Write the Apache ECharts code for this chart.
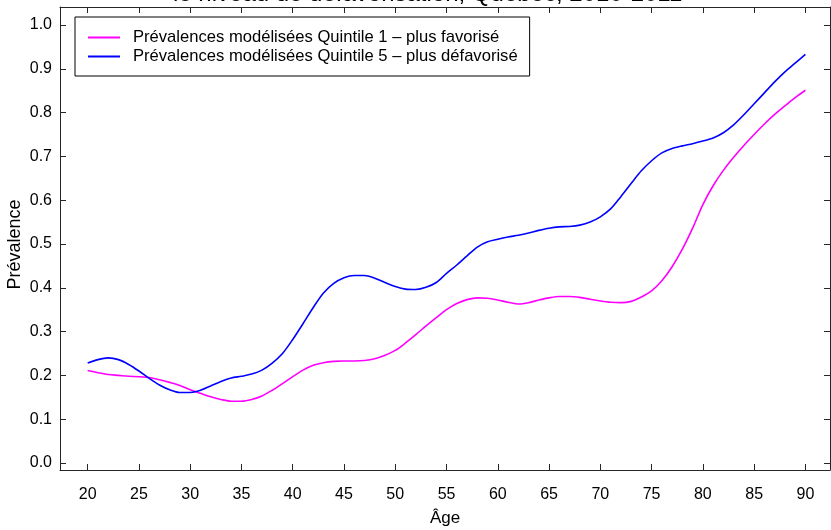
<!DOCTYPE html>
<html>
<head>
<meta charset="utf-8">
<script src="https://cdn.jsdelivr.net/npm/echarts@6/dist/echarts.min.js"></script>
<style>html,body{margin:0;padding:0;background:#fff}#c{width:831px;height:530px}</style>
</head>
<body>
<div id="c"></div>
<script>
const titleText = "le niveau de défavorisation, Québec, 2010-2011";
const seriesNames = ["Prévalences modélisées Quintile 1 – plus favorisé", "Prévalences modélisées Quintile 5 – plus défavorisé"];
const ages = [20,21,22,23,24,25,26,27,28,29,30,31,32,33,34,35,36,37,38,39,40,41,42,43,44,45,46,47,48,49,50,51,52,53,54,55,56,57,58,59,60,61,62,63,64,65,66,67,68,69,70,71,72,73,74,75,76,77,78,79,80,81,82,83,84,85,86,87,88,89,90];
const quintile1 = [0.211,0.206,0.202,0.200,0.198,0.197,0.195,0.190,0.184,0.177,0.167,0.159,0.151,0.145,0.141,0.141,0.145,0.153,0.166,0.181,0.197,0.212,0.223,0.229,0.232,0.233,0.233,0.234,0.238,0.246,0.257,0.274,0.293,0.313,0.332,0.350,0.364,0.373,0.377,0.376,0.372,0.367,0.363,0.366,0.372,0.377,0.380,0.380,0.378,0.374,0.370,0.367,0.366,0.369,0.379,0.393,0.416,0.448,0.488,0.536,0.590,0.633,0.668,0.698,0.725,0.750,0.774,0.796,0.815,0.834,0.851];
const quintile5 = [0.228,0.236,0.240,0.236,0.225,0.210,0.193,0.178,0.167,0.161,0.161,0.166,0.176,0.186,0.194,0.198,0.203,0.212,0.228,0.250,0.282,0.318,0.355,0.388,0.410,0.423,0.428,0.428,0.422,0.412,0.403,0.397,0.396,0.401,0.412,0.433,0.452,0.473,0.493,0.505,0.511,0.516,0.520,0.525,0.531,0.536,0.539,0.540,0.543,0.550,0.562,0.580,0.608,0.638,0.667,0.690,0.708,0.718,0.724,0.729,0.735,0.742,0.754,0.772,0.795,0.820,0.845,0.870,0.893,0.913,0.933];
const xTicks = [20,25,30,35,40,45,50,55,60,65,70,75,80,85,90];
const yTicks = [0,0.1,0.2,0.3,0.4,0.5,0.6,0.7,0.8,0.9,1.0];

const FONT = "Liberation Sans, Arial, sans-serif";
const axisCol = "#262626";
const chart = echarts.init(document.getElementById('c'), null, {renderer:'canvas'});

function pairs(xs, ys){ return xs.map((x,i)=>[x, ys[i]]); }

const xBase = {type:'value', min:17.3, max:92.4, splitLine:{show:false},
  axisLine:{show:true, onZero:false, lineStyle:{color:axisCol, width:1}}};
const yBase = {type:'value', min:-0.016, max:1.041, splitLine:{show:false},
  axisLine:{show:true, onZero:false, lineStyle:{color:axisCol, width:1}}};

chart.setOption({
  backgroundColor:'#fff',
  animation:false,
  title:{text:titleText, left:168, top:-23, textStyle:{fontFamily:FONT, fontSize:24, fontWeight:'normal', color:'#000'}},
  grid:{left:60, right:1, top:7, bottom:60, containLabel:false, outerBoundsMode:'none'},
  legend:{
    left:75, top:17, orient:'vertical',
    padding:[11,12,10,13], itemGap:0, itemWidth:32, itemHeight:2, icon:'rect',
    borderColor:'#000', borderWidth:1, backgroundColor:'#fff',
    textStyle:{fontFamily:FONT, fontSize:16.6, lineHeight:19, color:'#000', padding:[0,0,0,8]},
    data:seriesNames
  },
  xAxis:[
    Object.assign({}, xBase, {position:'bottom',
      name:'Âge', nameLocation:'middle', nameGap:40, nameMoveOverlap:false,
      nameTextStyle:{fontFamily:FONT, fontSize:17, color:'#000'},
      axisTick:{show:true, inside:true, length:6, customValues:xTicks, lineStyle:{color:axisCol}},
      axisLabel:{show:true, customValues:xTicks, margin:17, fontFamily:FONT, fontSize:16, color:'#000'}}),
    Object.assign({}, xBase, {position:'top',
      axisTick:{show:true, inside:true, length:6, customValues:xTicks, lineStyle:{color:axisCol}},
      axisLabel:{show:false}})
  ],
  yAxis:[
    Object.assign({}, yBase, {position:'left',
      name:'Prévalence', nameLocation:'middle', nameGap:36, nameRotate:90, nameMoveOverlap:false,
      nameTextStyle:{fontFamily:FONT, fontSize:18, color:'#000', padding:[0,12,0,0]},
      axisTick:{show:true, inside:true, length:6, customValues:yTicks, lineStyle:{color:axisCol}},
      axisLabel:{show:true, customValues:yTicks, margin:8, fontFamily:FONT, fontSize:16, color:'#000',
        formatter:v=>v.toFixed(1)}}),
    Object.assign({}, yBase, {position:'right',
      axisTick:{show:true, inside:true, length:6, customValues:yTicks, lineStyle:{color:axisCol}},
      axisLabel:{show:false}})
  ],
  series:[
    {name:seriesNames[0], type:'line', xAxisIndex:0, yAxisIndex:0, data:pairs(ages, quintile1),
     symbol:'none', smooth:0.3, lineStyle:{color:'#ff00ff', width:1.6}, itemStyle:{color:'#ff00ff'}},
    {name:seriesNames[1], type:'line', xAxisIndex:0, yAxisIndex:0, data:pairs(ages, quintile5),
     symbol:'none', smooth:0.3, lineStyle:{color:'#0000ff', width:1.6}, itemStyle:{color:'#0000ff'}}
  ]
});
</script>
</body>
</html>
